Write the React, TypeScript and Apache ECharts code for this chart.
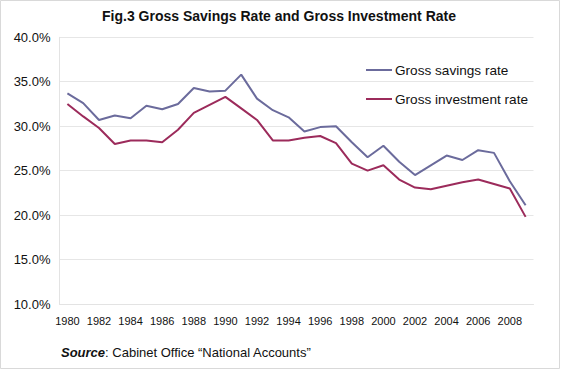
import React, { useEffect, useRef } from "react";
import * as echarts from "echarts";

const years = [
  "1980", "1981", "1982", "1983", "1984", "1985", "1986", "1987", "1988", "1989",
  "1990", "1991", "1992", "1993", "1994", "1995", "1996", "1997", "1998", "1999",
  "2000", "2001", "2002", "2003", "2004", "2005", "2006", "2007", "2008", "2009",
];
const savingsRate = [
  33.7, 32.6, 30.7, 31.2, 30.9, 32.3, 31.9, 32.5, 34.3, 33.9,
  34.0, 35.8, 33.1, 31.8, 31.0, 29.4, 29.9, 30.0, 28.2, 26.5,
  27.8, 26.0, 24.5, 25.6, 26.7, 26.2, 27.3, 27.0, 23.8, 21.1,
];
const investmentRate = [
  32.5, 31.1, 29.8, 28.0, 28.4, 28.4, 28.2, 29.6, 31.5, 32.4,
  33.3, 32.0, 30.7, 28.4, 28.4, 28.7, 28.9, 28.1, 25.8, 25.0,
  25.6, 24.0, 23.1, 22.9, 23.3, 23.7, 24.0, 23.5, 23.0, 19.8,
];
const seriesNames = ["Gross savings rate", "Gross investment rate"];
const titleText = "Fig.3 Gross Savings Rate and Gross Investment Rate";
const sourceLabel = "Source";
const sourceText = ": Cabinet Office \u201cNational Accounts\u201d";

const FONT = "'Liberation Sans', Arial, sans-serif";

export default function App() {
  const ref = useRef<HTMLDivElement>(null);
  useEffect(() => {
    document.body.style.margin = "0";
    if (!ref.current) return;
    const chart = echarts.init(ref.current, null, { renderer: "svg" });
    chart.setOption({
      animation: false,
      backgroundColor: "#ffffff",
      textStyle: { fontFamily: FONT },
      grid: { left: 59.5, right: 53.5, top: 37.3, bottom: 66, containLabel: false },
      legend: {
        orient: "vertical",
        left: 361,
        top: 57,
        icon: "rect",
        itemWidth: 26,
        itemHeight: 2,
        itemGap: 13,
        textStyle: { fontSize: 13.6, lineHeight: 16, color: "#111", fontFamily: FONT, padding: [0, 0, 0, -2] },
        data: seriesNames,
      },
      xAxis: {
        type: "category",
        data: years,
        boundaryGap: true,
        axisLine: { show: true, lineStyle: { color: "#e3e3e3", width: 1 } },
        axisTick: { show: false },
        axisLabel: { interval: 1, fontSize: 11, color: "#111", margin: 11, fontFamily: FONT },
        splitLine: { show: false },
      },
      yAxis: {
        type: "value",
        min: 10,
        max: 40,
        interval: 5,
        axisLine: { show: true, lineStyle: { color: "#e3e3e3", width: 1 } },
        axisTick: { show: false },
        axisLabel: {
          fontSize: 13,
          color: "#111",
          margin: 9,
          fontFamily: FONT,
          formatter: (v: number) => v.toFixed(1) + "%",
        },
        splitLine: { show: true, lineStyle: { color: "#e6e6e6", width: 1 } },
      },
      series: [
        {
          name: seriesNames[0],
          type: "line",
          data: savingsRate,
          symbol: "none",
          lineStyle: { color: "#6b6b9c", width: 2 },
          itemStyle: { color: "#6b6b9c" },
        },
        {
          name: seriesNames[1],
          type: "line",
          data: investmentRate,
          symbol: "none",
          lineStyle: { color: "#9c2b5b", width: 2 },
          itemStyle: { color: "#9c2b5b" },
        },
      ],
      graphic: [
        {
          type: "rect",
          shape: { x: 0.5, y: 0.5, width: 559, height: 368 },
          style: { fill: "none", stroke: "#d9d9d9", lineWidth: 1 },
          silent: true,
        },
        {
          type: "text",
          x: 279,
          y: 16,
          style: {
            text: titleText,
            font: `bold 14px ${FONT}`,
            fill: "#111",
            textAlign: "center",
            textVerticalAlign: "middle",
          },
        },
        {
          type: "text",
          x: 61,
          y: 352,
          style: {
            text: `{b|${sourceLabel}}{r|${sourceText}}`,
            textVerticalAlign: "middle",
            rich: {
              b: { fontFamily: FONT, fontSize: 13, fontWeight: "bold", fontStyle: "italic", fill: "#111" },
              r: { fontFamily: FONT, fontSize: 13, fill: "#111" },
            },
          },
        },
      ],
    });
    return () => chart.dispose();
  }, []);
  return <div ref={ref} style={{ width: 587, height: 370 }} />;
}
